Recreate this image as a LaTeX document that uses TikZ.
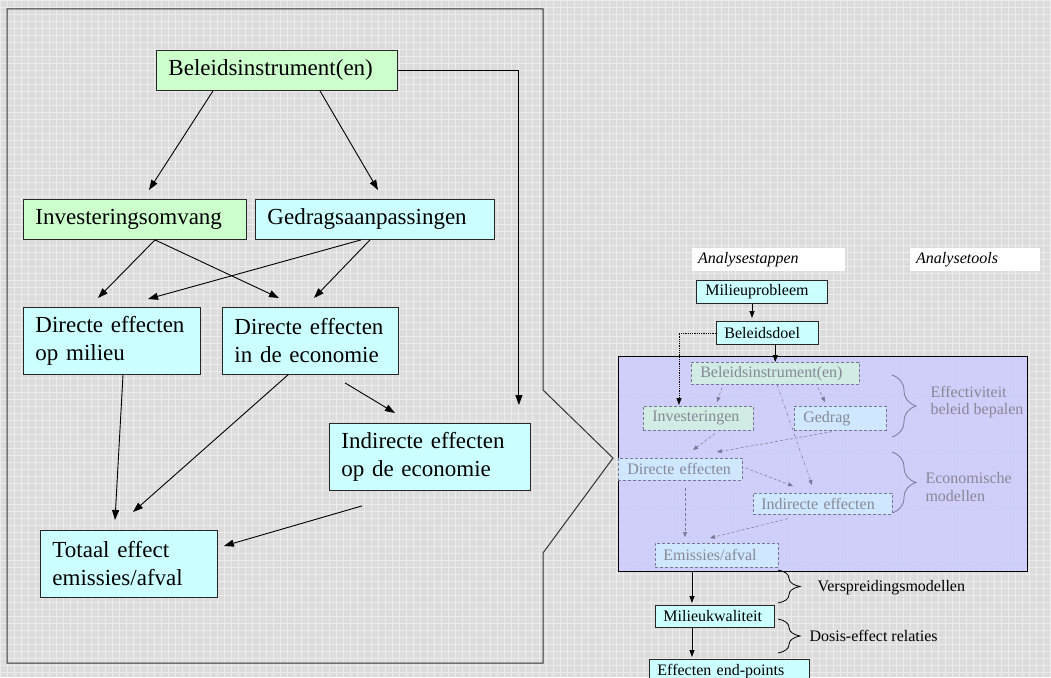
\documentclass[tikz,border=0pt]{standalone}
\usepackage{fontspec}
\setmainfont{Liberation Serif}
\usetikzlibrary{arrows.meta,calc,decorations.pathreplacing}
\definecolor{achtergrond}{RGB}{220,220,220}
\definecolor{rasterlijn}{RGB}{236,236,236}
\definecolor{lichtgroen}{RGB}{204,255,204}
\definecolor{lichtcyaan}{RGB}{204,255,255}
\definecolor{lavendel}{RGB}{204,204,255}
\definecolor{vaaggroen}{RGB}{208,236,228}
\definecolor{vaagcyaan}{RGB}{208,232,255}
\definecolor{vaaglijn}{RGB}{120,120,150}
\definecolor{vaagtekst}{RGB}{135,135,150}

\begin{document}
\begin{tikzpicture}[x=1pt, y=-1pt,
    vak/.style={draw=black!85, line width=0.9pt, anchor=north west, align=left,
        inner xsep=12pt, inner ysep=0pt, font=\fontsize{23}{28}\selectfont},
    klein/.style={draw=black!85, line width=0.9pt, anchor=north west, align=left,
        inner xsep=8pt, inner ysep=0pt, minimum height=23pt,
        font=\fontsize{16}{18}\selectfont},
    vaag/.style={draw=vaaglijn, densely dashed, line width=0.6pt, text=vaagtekst},
    kopje/.style={fill=white, anchor=north west, align=left, inner xsep=6pt,
        inner ysep=0pt, minimum height=23pt, font=\fontsize{16}{18}\selectfont\itshape},
    pijl/.style={-{Triangle[length=10pt,width=7pt]}, line width=0.9pt},
    kpijl/.style={-{Triangle[length=7pt,width=5pt]}, line width=0.8pt},
    vpijl/.style={-{Triangle[length=5pt,width=4pt]}, draw=vaaglijn, densely dashed, line width=0.5pt},
    accolade/.style={decorate, decoration={brace, amplitude=#1, aspect=0.5}, line width=0.8pt},
    accolade/.default=24pt
]
    \useasboundingbox (0,0) rectangle (1051,677);
    \clip (0,0) rectangle (1051,677);

    % Achtergrond met raster
    \fill[achtergrond] (0,0) rectangle (1051,677);
    \draw[rasterlijn, line width=0.8pt, step=7pt] (0,0) grid (1051,677);

    % Kader links met punt naar rechts
    \draw[black!80, line width=1pt] (7,9) -- (543,9) -- (543,390) -- (613,458)
        -- (543,553) -- (543,663) -- (7,663) -- cycle;

    % Beleidsinstrument(en)
    \node[vak, fill=lichtgroen, text width=217pt, minimum height=40pt] (bel) at (156,50) {Beleidsinstrument(en)};

    % Investeringen en gedrag
    \node[vak, fill=lichtgroen, text width=199pt, minimum height=40pt] (inv) at (23,199) {Investeringsomvang};
    \node[vak, fill=lichtcyaan, text width=215pt, minimum height=40pt] (gedr) at (255,199) {Gedragsaanpassingen};

    % Directe effecten
    \node[vak, fill=lichtcyaan, text width=153pt, minimum height=67pt] (dmil) at (23,307) {Directe effecten\\op milieu};
    \node[vak, fill=lichtcyaan, text width=152pt, minimum height=67pt] (deco) at (222,307) {Directe effecten\\in de economie};

    % Indirecte effecten
    \node[vak, fill=lichtcyaan, text width=177pt, minimum height=67pt] (indir) at (329,423) {Indirecte effecten\\op de economie};

    % Totaal effect
    \node[vak, fill=lichtcyaan, text width=153pt, minimum height=67pt] (tot) at (40,530) {Totaal effect\\emissies/afval};

    % Pijlen links
    \draw[pijl] ($(bel.south west)+(57,0)$) -- ($(inv.north west)+(126,-9)$);
    \draw[pijl] ($(bel.south west)+(164,0)$) -- ($(gedr.north west)+(123,-9)$);
    \draw[pijl] (bel.east) -| ($(indir.north east)+(-12,-18)$);
    \draw[pijl] ($(inv.south west)+(132,0)$) -- ($(dmil.north west)+(75,-9)$);
    \draw[pijl] ($(inv.south west)+(132,0)$) -- ($(deco.north west)+(57,-9)$);
    \draw[pijl] ($(gedr.south west)+(106,0)$) -- ($(dmil.north west)+(125,-8)$);
    \draw[pijl] ($(gedr.south west)+(115,0)$) -- ($(deco.north west)+(92,-9)$);
    \draw[pijl] ($(dmil.south west)+(100,0)$) -- ($(tot.north west)+(75,-10)$);
    \draw[pijl] ($(deco.south west)+(66,0)$) -- ($(tot.north west)+(93,-18)$);
    \draw[pijl] ($(deco.south west)+(123,8)$) -- ($(indir.north west)+(66,-10)$);
    \draw[pijl] ($(indir.south west)+(33,15)$) -- ($(tot.north east)+(6,16)$);

    % Kopjes rechts
    \node[kopje, text width=141pt] (stap) at (692,248) {Analysestappen};
    \node[kopje, text width=118pt] (tool) at (910,248) {Analysetools};

    % Milieuprobleem en beleidsdoel
    \node[klein, fill=lichtcyaan, text width=113pt, inner xsep=9pt] (milp) at (696,280) {Milieuprobleem};
    \node[klein, fill=lichtcyaan, text width=86pt] (doel) at (716,321) {Beleidsdoel};

    % Paneel met analysestappen
    \node[draw=black, line width=1.2pt, fill=lavendel, fill opacity=0.85, anchor=north west,
        minimum width=409pt, minimum height=215pt, inner sep=0pt] (panel) at (618,356) {};

    \node[klein, vaag, fill=vaaggroen, text width=150pt, inner xsep=9pt, minimum height=22pt] (ibel) at (691,362) {Beleidsinstrument(en)};
    \node[klein, vaag, fill=vaaggroen, text width=92pt, inner xsep=9pt, minimum height=24pt] (iinv) at (643,406) {Investeringen};
    \node[klein, vaag, fill=vaagcyaan, text width=74pt, inner xsep=9pt, minimum height=24pt] (iged) at (794,406) {Gedrag};
    \node[klein, vaag, fill=vaagcyaan, text width=106pt, inner xsep=9pt, minimum height=22pt] (idir) at (618,458) {Directe effecten};
    \node[klein, vaag, fill=vaagcyaan, text width=123pt, minimum height=21pt] (iind) at (753,493) {Indirecte effecten};
    \node[klein, vaag, fill=vaagcyaan, text width=107pt, minimum height=24pt] (iemi) at (655,543) {Emissies/afval};

    % Pijlen in het paneel
    \draw[vpijl] ($(ibel.south west)+(31,3)$) -- ($(iinv.north west)+(74,-4)$);
    \draw[vpijl] ($(ibel.south west)+(127,3)$) -- ($(iged.north west)+(31,-4)$);
    \draw[vpijl, dash dot] ($(ibel.south west)+(86,0)$) -- ($(iind.north west)+(59,-8)$);
    \draw[vpijl] ($(iinv.south west)+(72,3)$) -- ($(idir.north west)+(75,-8)$);
    \draw[vpijl] ($(iged.south west)+(38,1)$) -- ($(idir.north west)+(99,-6)$);
    \draw[vpijl] ($(idir.north east)+(3,10)$) -- ($(iind.north west)+(40,-7)$);
    \draw[vpijl] ($(idir.south west)+(67,7)$) -- ($(iemi.north west)+(30,-6)$);
    \draw[vpijl] ($(iind.south west)+(35,4)$) -- ($(iemi.north west)+(55,-5)$);

    % Verbindingen naar het paneel
    \draw[kpijl] ($(milp.south west)+(56,0)$) -- ($(doel.north west)+(36,-3)$);
    \draw[kpijl] (doel.south -| ibel.north) -- (ibel.north);
    \draw[kpijl, densely dotted, line width=0.7pt] (doel.west) -| ($(iinv.north west)+(36,-1)$);

    % Accolades in het paneel
    \draw[accolade, draw=vaaglijn] (892,375) -- (892,437);
    \node[anchor=west, align=left, text=vaagtekst, font=\fontsize{16}{17.5}\selectfont] (effb) at (927,402) {Effectiviteit\\beleid bepalen};
    \draw[accolade, draw=vaaglijn] (892,452) -- (892,513);
    \node[anchor=west, align=left, text=vaagtekst, font=\fontsize{16}{17.5}\selectfont] (ecom) at (922,487) {Economische\\modellen};

    % Onder het paneel
    \node[klein, fill=lichtcyaan, text width=103pt, minimum height=22pt] (mkw) at (655,605) {Milieukwaliteit};
    \node[klein, fill=lichtcyaan, text width=144pt, minimum height=24pt] (eep) at (649,659) {Effecten end-points};
    \draw[kpijl] ($(panel.south west)+(74,0)$) -- ($(mkw.north west)+(37,-2)$);
    \draw[kpijl] ($(mkw.south west)+(37,0)$) -- ($(eep.north west)+(43,-2)$);

    \draw[accolade=22pt] (778,570) -- (778,603);
    \node[anchor=west, font=\fontsize{16}{18}\selectfont] (versp) at (814,588) {Verspreidingsmodellen};
    \draw[accolade=22pt] (778,619) -- (778,653);
    \node[anchor=west, font=\fontsize{16}{18}\selectfont] (dosis) at (806,636) {Dosis-effect relaties};
\end{tikzpicture}
\end{document}
